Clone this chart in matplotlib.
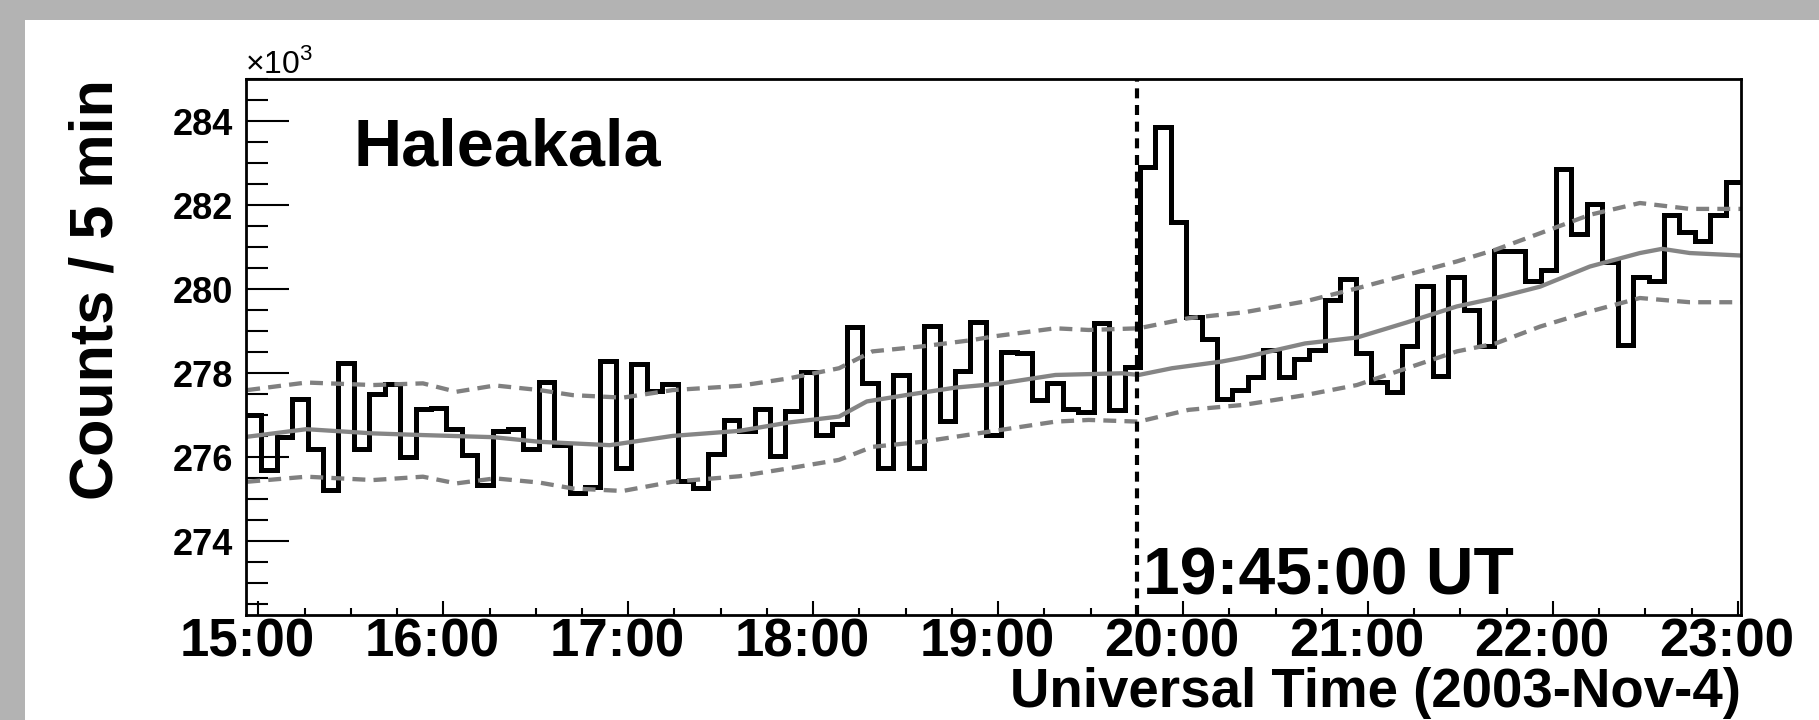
import numpy as np
import matplotlib
matplotlib.use("Agg")
import matplotlib.pyplot as plt
import matplotlib.transforms as mtransforms
from matplotlib.patches import Rectangle
from matplotlib.ticker import MultipleLocator, FixedLocator

plt.rcParams['font.family'] = ['Liberation Sans', 'DejaVu Sans']
plt.rcParams['mathtext.fontset'] = 'custom'
plt.rcParams['mathtext.rm'] = 'Liberation Sans'

# histogram: counts per 5 min bin (x10^3), first bin starts 14:56 UT
t_start = 14 + 56 / 60.0
bin_min = 5
counts = [277.00, 275.70, 276.49, 277.39, 276.20, 275.22, 278.24, 276.20, 277.51, 277.74,
          276.00, 277.14, 277.18, 276.67, 276.06, 275.34, 276.62, 276.67, 276.19, 277.80,
          276.29, 275.16, 275.30, 278.29, 275.74, 278.22, 277.59, 277.75, 275.44, 275.26,
          276.08, 276.89, 276.63, 277.15, 276.03, 277.10, 278.02, 276.53, 276.79, 279.09,
          277.76, 275.74, 277.95, 275.75, 279.13, 276.86, 278.05, 279.23, 276.53, 278.50,
          278.48, 277.36, 277.76, 277.14, 277.09, 279.19, 277.13, 278.16, 282.90, 283.87,
          281.59, 279.35, 278.82, 277.38, 277.60, 277.90, 278.55, 277.90, 278.33, 278.55,
          279.75, 280.25, 278.48, 277.80, 277.55, 278.64, 280.08, 277.94, 280.30, 279.51,
          278.64, 280.91, 280.90, 280.20, 280.46, 282.86, 281.32, 282.02, 280.64, 278.67,
          280.30, 280.20, 281.77, 281.35, 281.15, 281.77, 282.54]

# background trend (grey solid)
mean_t = [14.94, 15.26, 15.62, 15.89, 16.27, 16.52, 16.90, 17.24, 17.60, 17.87, 18.14,
          18.29, 18.50, 18.77, 19.00, 19.31, 19.67, 19.76, 19.94, 20.21, 20.33, 20.66,
          20.94, 21.21, 21.48, 21.69, 21.93, 22.20, 22.47, 22.59, 22.74, 23.02]
mean_v = [276.49, 276.67, 276.57, 276.53, 276.48, 276.37, 276.29, 276.51, 276.63, 276.83,
          276.97, 277.33, 277.48, 277.66, 277.75, 277.96, 278.00, 277.96, 278.12, 278.28,
          278.38, 278.71, 278.85, 279.21, 279.59, 279.79, 280.06, 280.54, 280.86, 280.96,
          280.86, 280.80]

# band limits (grey dashed)
band_t = [14.94, 15.26, 15.62, 15.89, 16.07, 16.28, 16.52, 16.70, 16.97, 17.24, 17.60,
          17.87, 18.14, 18.32, 18.59, 18.86, 18.98, 19.31, 19.49, 19.76, 20.03, 20.33,
          20.66, 20.94, 21.21, 21.48, 21.69, 21.93, 22.20, 22.47, 22.74, 23.02]
upper_v = [277.60, 277.78, 277.72, 277.76, 277.56, 277.71, 277.60, 277.48, 277.42, 277.60,
           277.70, 277.88, 278.12, 278.52, 278.64, 278.79, 278.88, 279.07, 279.03, 279.07,
           279.31, 279.45, 279.71, 280.02, 280.34, 280.66, 280.94, 281.33, 281.77, 282.05,
           281.91, 281.91]
lower_v = [275.42, 275.54, 275.46, 275.54, 275.38, 275.50, 275.40, 275.26, 275.20, 275.42,
           275.55, 275.74, 275.94, 276.25, 276.37, 276.55, 276.63, 276.85, 276.89, 276.85,
           277.13, 277.25, 277.48, 277.72, 278.12, 278.52, 278.71, 279.11, 279.47, 279.79,
           279.69, 279.69]

event_time = 19.75
hour_ticks = [15, 16, 17, 18, 19, 20, 21, 22, 23]
hour_labels = ["%d:00" % h for h in hour_ticks]
y_ticks = [274, 276, 278, 280, 282, 284]

edges = t_start + np.arange(len(counts) + 1) * bin_min / 60.0

fig = plt.figure(figsize=(18.19, 7.2), dpi=100)
fig.patch.set_facecolor('#b3b3b3')
bg = Rectangle((25 / 1819, 0), 1, 1 - 20 / 720, transform=fig.transFigure,
               facecolor='white', edgecolor='none', zorder=-10)
fig.patches.append(bg)

ax = fig.add_axes([246 / 1819, 1 - 615 / 720, 1495 / 1819, 536 / 720])
ax.set_facecolor('white')

ax.plot(band_t, upper_v, color='#808080', lw=3.1, dashes=(3.0, 1.9))
ax.plot(band_t, lower_v, color='#808080', lw=3.1, dashes=(3.0, 1.9))
ax.plot(mean_t, mean_v, color='#858585', lw=3.1)
ax.stairs(counts, edges, baseline=None, color='black', lw=3.6)
ax.axvline(event_time, color='black', lw=3.0, dashes=(2.4, 1.6))

ax.set_xlim(edges[0], edges[-1])
ax.set_ylim(272.25, 285.0)

ax.xaxis.set_major_locator(FixedLocator(hour_ticks))
ax.set_xticklabels(hour_labels)
ax.xaxis.set_minor_locator(MultipleLocator(0.25))
ax.yaxis.set_major_locator(FixedLocator(y_ticks))
ax.yaxis.set_minor_locator(MultipleLocator(0.5))
ax.set_yticklabels([str(v) for v in y_ticks])

ax.tick_params(axis='x', which='major', direction='in', length=10, width=1.5,
               labelsize=38, pad=2, top=False)
ax.tick_params(axis='x', which='minor', direction='in', length=5, width=1.5, top=False)
ax.tick_params(axis='y', which='major', direction='in', length=31, width=1.5,
               labelsize=26, pad=9, right=False)
ax.tick_params(axis='y', which='minor', direction='in', length=16, width=1.5, right=False)
for lab in ax.get_xticklabels() + ax.get_yticklabels():
    lab.set_fontweight('bold')
off = mtransforms.ScaledTranslation(-11 / 100, 0, fig.dpi_scale_trans)
for lab in ax.get_xticklabels():
    lab.set_transform(lab.get_transform() + off)

for s in ax.spines.values():
    s.set_linewidth(2.0)

ax.set_xlabel("Universal Time (2003-Nov-4)", fontsize=39.3, fontweight='bold')
ax.xaxis.set_label_coords(1.0, -0.1716)
ax.xaxis.label.set_ha('right')
ax.xaxis.label.set_va('baseline')

ax.set_ylabel("Counts / 5 min", fontsize=44, fontweight='bold')
ax.yaxis.set_label_coords(-0.0997, 1.0)
ax.yaxis.label.set_ha('right')
ax.yaxis.label.set_va('center')

ax.text(0.0716, 0.8377, "Haleakala", transform=ax.transAxes, fontsize=48,
        fontweight='bold', va='baseline', ha='left')
ax.text(0.6, 0.039, "19:45:00 UT", transform=ax.transAxes, fontsize=47.5,
        fontweight='bold', va='baseline', ha='left')
ax.text(-0.001, 1.0112, r"$\times$10$^{3}$", transform=ax.transAxes, fontsize=23,
        va='baseline', ha='left')

fig.savefig("out.png", dpi=100, facecolor=fig.get_facecolor())
